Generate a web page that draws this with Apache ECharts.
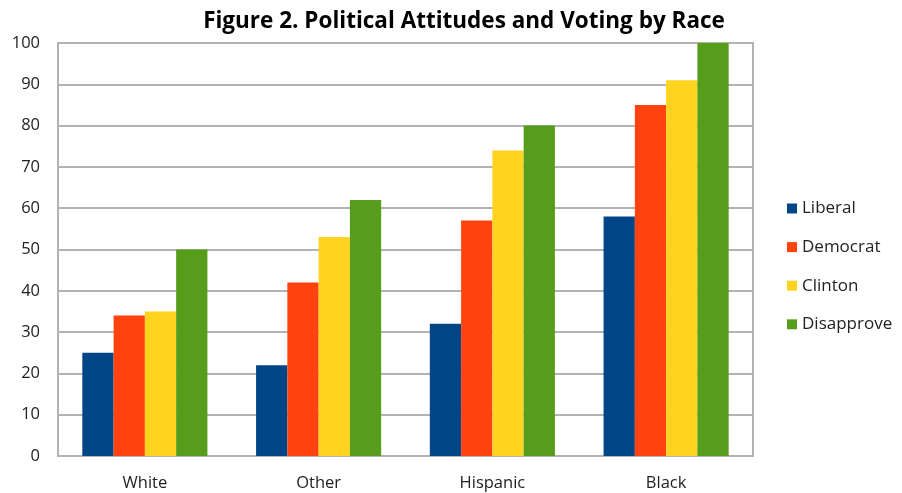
<!DOCTYPE html>
<html><head><meta charset="utf-8">
<script src="https://cdn.jsdelivr.net/npm/echarts@6/dist/echarts.min.js"></script>
<style>html,body{margin:0;padding:0;background:#fff}#c{width:902px;height:493px}</style>
</head><body><div id="c"></div>
<script>
const categories = ['White', 'Other', 'Hispanic', 'Black'];
const seriesNames = ['Liberal', 'Democrat', 'Clinton', 'Disapprove'];
const liberal = [25, 22, 32, 58];
const democrat = [34, 42, 57, 85];
const clinton = [35, 53, 74, 91];
const disapprove = [50, 62, 80, 100];
const colors = ['#004586', '#ff420e', '#ffd320', '#579d1c'];
const values = [liberal, democrat, clinton, disapprove];
const FONT = '"Open Sans", Lato, sans-serif';
const chart = echarts.init(document.getElementById('c'));
chart.setOption({
  animation: false,
  title: {text: 'Figure 2. Political Attitudes and Voting by Race', left: 459, textAlign: 'center', top: 5,
    textStyle: {fontFamily: FONT, fontWeight: 'bold', fontSize: 22.5, color: '#000'}},
  legend: {orient: 'vertical', left: 782, top: 195, itemGap: 21.6, itemWidth: 10, itemHeight: 10,
    icon: 'rect', textStyle: {fontFamily: FONT, fontSize: 17, color: '#222'}, data: seriesNames},
  grid: {left: 58, right: 149, top: 43, bottom: 37, show: true, borderColor: '#b3b3b3', borderWidth: 2},
  xAxis: {type: 'category', data: categories,
    axisLine: {lineStyle: {color: '#b3b3b3', width: 2}}, axisTick: {show: false},
    axisLabel: {fontFamily: FONT, fontSize: 16.5, color: '#222', margin: 19}},
  yAxis: {type: 'value', min: 0, max: 100, interval: 10,
    axisLine: {show: true, lineStyle: {color: '#b3b3b3', width: 2}}, axisTick: {show: false},
    splitLine: {lineStyle: {color: '#b3b3b3', width: 2}},
    axisLabel: {fontFamily: FONT, fontSize: 16.5, color: '#222', margin: 18}},
  series: seriesNames.map((n, i) => ({name: n, type: 'bar', data: values[i], barGap: '0%', barCategoryGap: '28%',
    itemStyle: {color: colors[i]}}))
});
</script></body></html>
